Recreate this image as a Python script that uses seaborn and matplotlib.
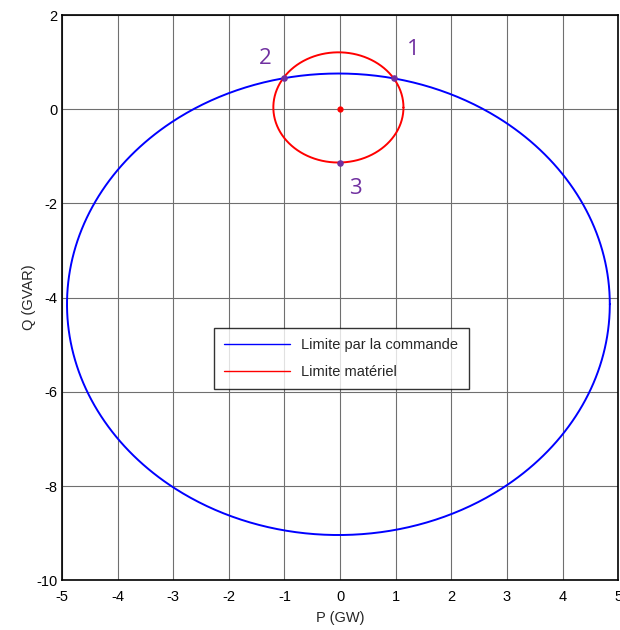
import numpy as np
import pandas as pd
import seaborn as sns
import matplotlib
matplotlib.use('Agg')
import matplotlib.pyplot as plt

# limit curves: centre (P, Q) and radii (P, Q)
cmd_center = (-0.03, -4.14)
cmd_radii = (4.88, 4.90)
mat_center = (-0.03, 0.04)
mat_radii = (1.17, 1.17)

# marked points and their labels
point_labels = ['1', '2', '3']
point_p = [0.97, -1.0, 0.0]
point_q = [0.66, 0.66, -1.15]
label_p = [1.32, -1.35, 0.28]
label_q = [1.27, 1.08, -1.68]

x_ticks = [-5, -4, -3, -2, -1, 0, 1, 2, 3, 4, 5]
y_ticks = [-10, -8, -6, -4, -2, 0, 2]


def ellipse_df(center, radii, name):
    t = np.linspace(0, 2 * np.pi, 721)
    return pd.DataFrame({'P': center[0] + radii[0] * np.cos(t),
                         'Q': center[1] + radii[1] * np.sin(t),
                         'curve': name})


df = pd.concat([ellipse_df(cmd_center, cmd_radii, 'Limite par la commande'),
                ellipse_df(mat_center, mat_radii, 'Limite matériel')])

sns.set_style('white')
plt.rcParams['font.family'] = ['Liberation Sans', 'DejaVu Sans']
plt.rcParams['axes.unicode_minus'] = False

fig = plt.figure(figsize=(6.2, 6.3), dpi=100)
ax = fig.add_axes([0.1, 0.079, 0.897, 0.897])

ax.set_xticks(x_ticks)
ax.set_yticks(y_ticks)
ax.grid(True, color='#6f6f6f', linewidth=0.8)
ax.set_axisbelow(True)

sns.lineplot(data=df, x='P', y='Q', hue='curve', sort=False, estimator=None,
             palette={'Limite par la commande': '#0000ff', 'Limite matériel': '#ff0000'},
             linewidth=1.4, ax=ax)

ax.scatter([0], [0], color='#ff0000', s=12, zorder=5)
ax.scatter(point_p, point_q, color='#7030a0', s=14, zorder=6)
for lab, px, py in zip(point_labels, label_p, label_q):
    ax.text(px, py, lab, color='#7030a0', fontsize=16, ha='center', va='center',
            family=['Open Sans', 'DejaVu Sans'])

ax.set_xlim(-5, 5)
ax.set_ylim(-10, 2)
ax.set_xlabel('P (GW)', fontsize=10.5, labelpad=5)
ax.set_ylabel('Q (GVAR)', fontsize=10.5, labelpad=0)
ax.tick_params(direction='in', length=3, labelsize=10.5, colors='black')
ax.tick_params(axis='x', pad=7)
for s in ax.spines.values():
    s.set_color('black')
    s.set_linewidth(1.2)

leg = ax.legend(loc='center', bbox_to_anchor=(0.502, 0.5 - 0.108), fontsize=10.5,
                frameon=True, fancybox=False, edgecolor='black', handlelength=4.5,
                borderpad=0.7, labelspacing=0.9)
leg.get_frame().set_linewidth(1.0)
for line in leg.get_lines():
    line.set_linewidth(1.0)

fig.savefig('out.png', dpi=100)
